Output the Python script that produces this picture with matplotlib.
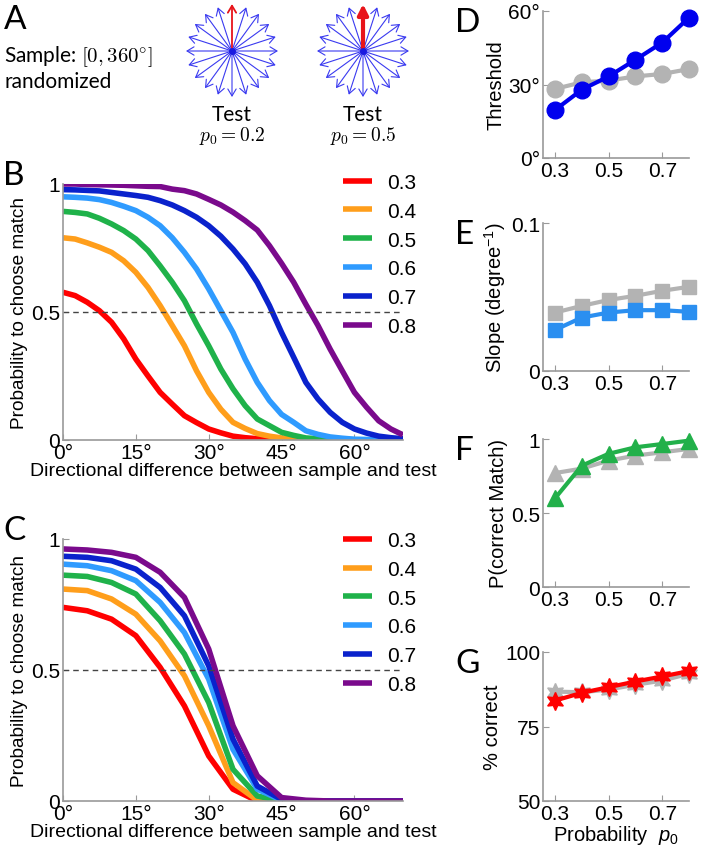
import numpy as np
import matplotlib
matplotlib.use("Agg")
import matplotlib.pyplot as plt
from matplotlib.patches import FancyArrowPatch

plt.rcParams['font.family'] = ['Liberation Sans', 'DejaVu Sans']
plt.rcParams['mathtext.fontset'] = 'custom'
plt.rcParams['mathtext.rm'] = 'Liberation Sans'
plt.rcParams['mathtext.it'] = 'Liberation Sans:italic'

# ---- data ----
labels = ['0.3', '0.4', '0.5', '0.6', '0.7', '0.8']
colors = ['#ff0000', '#ff9e1b', '#1fb24a', '#2f9bff', '#0a22cc', '#7a0a8c']

# panel B (read every 2.5 deg)
deg_b = [0, 2.5, 5, 7.5, 10, 12.5, 15, 17.5, 20, 22.5, 25, 27.5, 30, 32.5, 35,
         37.5, 40, 42.5, 45, 47.5, 50, 52.5, 55, 57.5, 60, 62.5, 65, 67.5, 70]
b_curves = [
    [0.577, 0.564, 0.538, 0.505, 0.46, 0.395, 0.316, 0.25, 0.186, 0.14, 0.095, 0.068, 0.043, 0.028, 0.015,
     0.009, 0.005, 0.003, 0.002, 0.001, 0.001, 0, 0, 0, 0, 0, 0, 0, 0],
    [0.79, 0.785, 0.77, 0.753, 0.733, 0.70, 0.655, 0.596, 0.525, 0.447, 0.368, 0.27, 0.186, 0.12, 0.069,
     0.045, 0.025, 0.015, 0.008, 0.005, 0.003, 0.002, 0.001, 0.001, 0, 0, 0, 0, 0],
    [0.893, 0.889, 0.883, 0.866, 0.844, 0.818, 0.785, 0.74, 0.68, 0.616, 0.544, 0.453, 0.368, 0.277, 0.2,
     0.134, 0.082, 0.056, 0.03, 0.018, 0.008, 0.005, 0.003, 0.002, 0.001, 0.001, 0, 0, 0],
    [0.95, 0.948, 0.945, 0.939, 0.928, 0.913, 0.896, 0.87, 0.837, 0.79, 0.733, 0.668, 0.59, 0.505, 0.42,
     0.316, 0.225, 0.154, 0.10, 0.069, 0.036, 0.022, 0.012, 0.007, 0.003, 0.002, 0.001, 0.001, 0],
    [0.978, 0.977, 0.975, 0.973, 0.967, 0.961, 0.955, 0.948, 0.935, 0.918, 0.896, 0.87, 0.837, 0.796, 0.746,
     0.688, 0.616, 0.525, 0.42, 0.323, 0.225, 0.16, 0.108, 0.069, 0.043, 0.027, 0.015, 0.009, 0.005],
    [1.0, 1.0, 0.998, 0.997, 0.996, 0.995, 0.993, 0.991, 0.99, 0.98, 0.974, 0.961, 0.94, 0.918, 0.89,
     0.857, 0.82, 0.759, 0.69, 0.616, 0.53, 0.447, 0.355, 0.27, 0.186, 0.128, 0.075, 0.043, 0.02],
]

# panel C (5 deg steps)
deg_c = [0, 5, 10, 15, 20, 25, 30, 35, 40, 45, 50, 55, 60, 65, 70]
c_curves = [
    [0.739, 0.726, 0.694, 0.631, 0.51, 0.363, 0.172, 0.045, 0, 0, 0, 0, 0, 0, 0],
    [0.809, 0.803, 0.771, 0.713, 0.611, 0.478, 0.287, 0.07, 0.003, 0, 0, 0, 0, 0, 0],
    [0.862, 0.857, 0.834, 0.79, 0.688, 0.561, 0.376, 0.121, 0.019, 0, 0, 0, 0, 0, 0],
    [0.904, 0.898, 0.879, 0.841, 0.758, 0.643, 0.465, 0.197, 0.045, 0.003, 0, 0, 0, 0, 0],
    [0.934, 0.93, 0.917, 0.885, 0.815, 0.707, 0.516, 0.236, 0.057, 0.006, 0, 0, 0, 0, 0],
    [0.962, 0.958, 0.949, 0.93, 0.873, 0.777, 0.58, 0.287, 0.096, 0.013, 0.003, 0, 0, 0, 0],
]

p0 = [0.3, 0.4, 0.5, 0.6, 0.7, 0.8]
thr_model = [19.6, 27.9, 33.3, 40.1, 47.1, 57.3]
thr_gray = [28.2, 30.9, 31.6, 33.3, 34.3, 36.3]
slope_model = [0.0278, 0.0361, 0.0395, 0.0411, 0.0411, 0.040]
slope_gray = [0.0395, 0.044, 0.048, 0.0508, 0.0542, 0.0569]
pcm_model = [0.60, 0.82, 0.90, 0.944, 0.966, 0.989]
pcm_gray = [0.77, 0.80, 0.854, 0.888, 0.91, 0.933]
pc_model = [83.7, 86.3, 88.2, 90.1, 91.8, 93.6]
pc_gray = [86.7, 86.5, 87.4, 89.0, 90.4, 92.7]

arrow_angles = [0, 18, 36, 54, 72, 90, 108, 126, 144, 162,
                180, 198, 216, 234, 252, 270, 288, 306, 324, 342]

W, H = 702, 853
fig = plt.figure(figsize=(W / 100, H / 100), dpi=100)
spine_col = '#9a9a9a'


def px_axes(left, top, right, bottom):
    return fig.add_axes([left / W, 1 - bottom / H, (right - left) / W, (bottom - top) / H])


def style(ax):
    for s in ['top', 'right']:
        ax.spines[s].set_visible(False)
    for s in ['left', 'bottom']:
        ax.spines[s].set_color(spine_col)
        ax.spines[s].set_linewidth(1.2)
    ax.tick_params(direction='in', length=4, color=spine_col, labelsize=15, pad=2)


# ---- panel A ----
axa = fig.add_axes([0, 0, 1, 1])
axa.set_xlim(0, W)
axa.set_ylim(H, 0)
axa.axis('off')
for cx, red_w in [(232, 1.3), (363, 3.0)]:
    cy = 52
    r = 46
    for a in arrow_angles:
        if a == 0:
            continue
        t = np.deg2rad(a)
        axa.add_patch(FancyArrowPatch((cx, cy), (cx + r * np.sin(t), cy - r * np.cos(t)),
                                      arrowstyle='->,head_length=5,head_width=3',
                                      color='#3a3af0', lw=0.8, shrinkA=0, shrinkB=0))
    if red_w > 2:
        st = '-|>,head_length=6,head_width=3'
    else:
        st = '->,head_length=5,head_width=3'
    axa.add_patch(FancyArrowPatch((cx, cy), (cx, cy - r - 1), arrowstyle=st,
                                  color='#e8141a', lw=red_w, shrinkA=0, shrinkB=0))
    axa.plot([cx], [cy], 'o', color='#1a1ae0', ms=4)

fig.text(4 / W, 1 - 29 / H, 'A', fontsize=24, family='Lato')
fig.text(4 / W, 1 - 62 / H, r'Sample: $[0, 360^{\circ}]$', fontsize=15, family='Lato',
         math_fontfamily='cm')
fig.text(4 / W, 1 - 88 / H, 'randomized', fontsize=15, family='Lato')
for cx, lab in [(232, r'$p_0 = 0.2$'), (363, r'$p_0 = 0.5$')]:
    fig.text(cx / W, 1 - 115 / H, 'Test', fontsize=15, family='Lato', ha='center', va='center')
    fig.text(cx / W, 1 - 136 / H, lab, fontsize=14, ha='center', va='center',
             math_fontfamily='cm')


# ---- panels B and C ----
def curve_panel(ax, x, curves, letter, leg_top):
    style(ax)
    for y, c, l in zip(curves, colors, labels):
        ax.plot(x, y, color=c, lw=4, label=l, solid_capstyle='butt')
    ax.plot([0, 70], [0.5, 0.5], color='#444444', lw=1, dashes=(4, 3))
    ax.set_xlim(0, 70)
    ax.set_ylim(0, 1)
    ax.set_xticks([0, 15, 30, 45, 60])
    ax.set_xticklabels(['0°', '15°', '30°', '45°', '60°'])
    ax.set_yticks([0, 0.5, 1])
    ax.set_yticklabels(['0', '0.5', '1'])
    ax.set_xlabel('Directional difference between sample and test', fontsize=14, labelpad=0)
    ax.set_ylabel('Probability to choose match', fontsize=13.7, labelpad=2)
    ax.legend(loc='upper left', bbox_to_anchor=(343 / W, 1 - leg_top / H),
              bbox_transform=fig.transFigure,
              frameon=False, fontsize=15, handlelength=1.4, handletextpad=0.7,
              labelspacing=0.47, borderpad=0, borderaxespad=0)
    top_px = (1 - ax.get_position().y1) * H
    fig.text(3 / W, 1 - top_px / H, letter, fontsize=24, family='Lato', va='baseline')


axb = px_axes(63, 185, 403, 441)
curve_panel(axb, deg_b, b_curves, 'B', 174)

axc = px_axes(63, 540, 403, 802)
curve_panel(axc, deg_c, c_curves, 'C', 532)


# ---- right panels ----
def small_panel(ax, yg, ym, color, marker, ms, ylim, yticks, yticklabels, ylabel, letter):
    style(ax)
    ax.plot(p0, yg, color='#b3b3b3', lw=3, marker=marker, ms=ms, mec='#b3b3b3')
    ax.plot(p0, ym, color=color, lw=3, marker=marker, ms=ms, mec=color)
    ax.set_xlim(0.255, 0.8)
    ax.set_ylim(*ylim)
    ax.set_xticks([0.3, 0.5, 0.7])
    ax.set_xticklabels(['0.3', '0.5', '0.7'])
    ax.set_yticks(yticks)
    ax.set_yticklabels(yticklabels)
    ax.set_ylabel(ylabel, fontsize=14.5, labelpad=2)
    for a in ax.lines:
        a.set_clip_on(False)
    fig.text(455 / W, ax.get_position().y1 + 0.005, letter, fontsize=24, family='Lato',
             va='top')


star6 = (6, 1, 0)
axd = px_axes(543, 12, 689, 159)
small_panel(axd, thr_gray, thr_model, '#0000ee', 'o', 12, (0, 60), [0, 30, 60],
            ['0°', '30°', '60°'], 'Threshold', 'D')
axe = px_axes(543, 224, 689, 372)
small_panel(axe, slope_gray, slope_model, '#2b8ff0', 's', 10, (0, 0.1), [0, 0.1],
            ['0', '0.1'], r'Slope (degree$^{-1}$)', 'E')
axf = px_axes(543, 440, 689, 588)
small_panel(axf, pcm_gray, pcm_model, '#22b04a', '^', 12, (0, 1), [0, 0.5, 1],
            ['0', '0.5', '1'], 'P(correct Match)', 'F')
axg = px_axes(543, 653, 689, 802)
small_panel(axg, pc_gray, pc_model, '#ff0000', star6, 13, (50, 100), [50, 75, 100],
            ['50', '75', '100'], '% correct', 'G')
axg.set_xlabel(r'Probability  $\mathit{p_0}$', fontsize=14.5, labelpad=0)

fig.savefig('out.png', dpi=100)
